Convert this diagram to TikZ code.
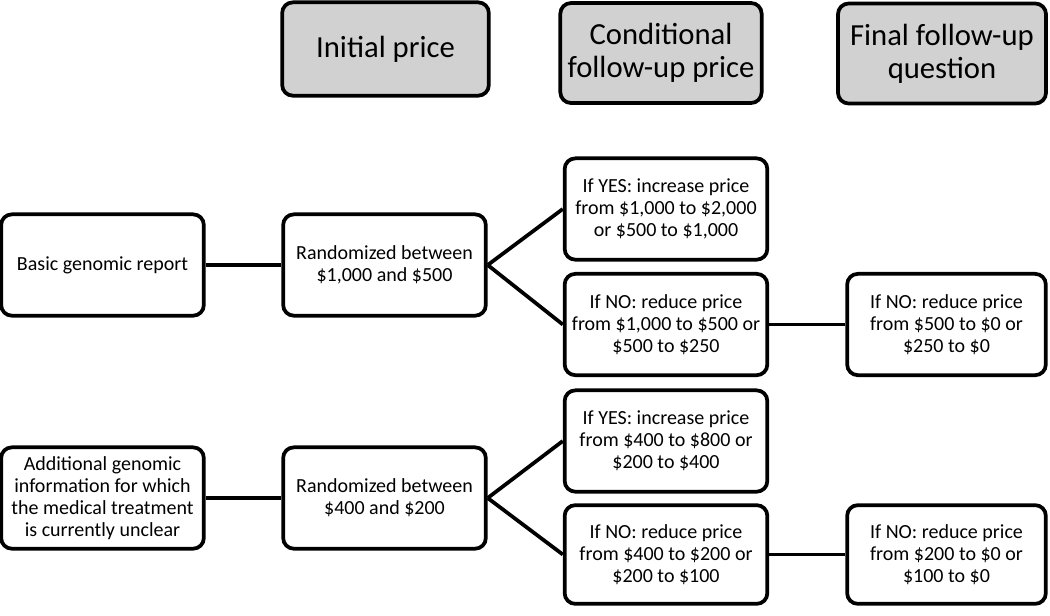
\documentclass[tikz,border=0pt]{standalone}
\usepackage{fontspec}
\setmainfont{Carlito}
\begin{document}
\begin{tikzpicture}[x=0.75pt, y=-0.75pt,
	every node/.style={draw, line width=2.8pt, rounded corners=8pt, align=center, fill=white, inner sep=1pt},
	head/.style={fill=black!18, font=\fontsize{23}{25}\selectfont, minimum height=70pt},
	box/.style={font=\fontsize{15}{16.5}\selectfont, minimum width=152pt, minimum height=76pt},
	every path/.style={line width=2.8pt}]
			\useasboundingbox (0,0) rectangle (1050,615);
			\node[head, minimum width=155pt] (h1) at (385.5, 49) {Initial price};
			\node[head, minimum width=151pt, minimum height=75pt] (h2) at (661, 53) {Conditional\\follow-up price};
			\node[head, minimum width=156pt, minimum height=75pt] (h3) at (942, 53.5) {Final follow-up\\question};
			\node[box] (b1) at (102.5, 265) {Basic genomic report};
			\node[box] (r1) at (384.5, 265) {Randomized between\\\$1,000 and \$500};
			\node[box] (y1) at (666, 209) {If YES: increase price\\from \$1,000 to \$2,000\\or \$500 to \$1,000};
			\node[box] (n1) at (666, 324.5) {If NO: reduce price\\from \$1,000 to \$500 or\\\$500 to \$250};
			\node[box, minimum width=149pt] (f1) at (946.5, 324.5) {If NO: reduce price\\from \$500 to \$0 or\\\$250 to \$0};
			\node[box] (b2) at (102.5, 498) {Additional genomic\\information for which\\the medical treatment\\is currently unclear};
			\node[box] (r2) at (384.5, 498) {Randomized between\\\$400 and \$200};
			\node[box] (y2) at (666, 441) {If YES: increase price\\from \$400 to \$800 or\\\$200 to \$400};
			\node[box, minimum height=74pt] (n2) at (666, 554.5) {If NO: reduce price\\from \$400 to \$200 or\\\$200 to \$100};
			\node[box, minimum width=149pt, minimum height=74pt] (f2) at (946.5, 554.5) {If NO: reduce price\\from \$200 to \$0 or\\\$100 to \$0};
			\draw (b1) -- (r1);
			\draw (r1.east) -- (y1.west);
			\draw (r1.east) -- (n1.west);
			\draw (n1) -- (f1);
			\draw (b2) -- (r2);
			\draw (r2.east) -- (y2.west);
			\draw (r2.east) -- (n2.west);
			\draw (n2) -- (f2);
\end{tikzpicture}
\end{document}
